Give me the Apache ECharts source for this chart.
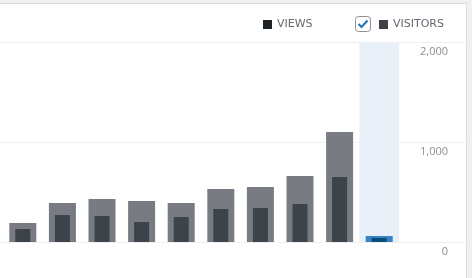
<!DOCTYPE html>
<html>
<head>
<meta charset="utf-8">
<script src="https://cdn.jsdelivr.net/npm/echarts@6/dist/echarts.min.js"></script>
<style>
  html, body { margin: 0; padding: 0; background: #f0f0f1; }
  #card { position: absolute; left: -1px; top: 3px; width: 468px; height: 280px; background: #fff; border: 1px solid #dcdcde; box-sizing: border-box; }
  #chart { position: absolute; left: 0; top: 0; width: 472px; height: 278px; }
</style>
</head>
<body>
<div id="card"></div>
<div id="chart"></div>
<script>
const categories = ['P1', 'P2', 'P3', 'P4', 'P5', 'P6', 'P7', 'P8', 'P9', 'P10'];
const views = [190, 390, 430, 410, 390, 530, 550, 660, 1100, 60];
const visitors = [130, 270, 260, 200, 250, 330, 340, 380, 650, 40];
const yTicks = [0, 1000, 2000];
const highlightIndex = 9;

const yMax = yTicks[yTicks.length - 1];
const band = categories.map((c, i) => i === highlightIndex ? yMax : null);
const viewsData = views.map((v, i) => i === highlightIndex ? { value: v, itemStyle: { color: '#3582c4' } } : v);
const visitorsData = visitors.map((v, i) => i === highlightIndex ? { value: v, itemStyle: { color: '#0a4b78' } } : v);

const chart = echarts.init(document.getElementById('chart'), null, { renderer: 'canvas' });
const hiddenCat = (grid) => ({ type: 'category', gridIndex: grid, data: categories, show: false, boundaryGap: true });
const legendText = { color: '#646970', fontSize: 11, fontFamily: 'DejaVu Sans' };
chart.setOption({
  animation: false,
  backgroundColor: 'transparent',
  grid: [
    { left: 3, top: 42, width: 396, height: 200 },
    { left: 0, top: 42, width: 468, height: 200 }
  ],
  xAxis: [hiddenCat(0), hiddenCat(0), hiddenCat(0), { type: 'category', gridIndex: 1, data: categories, show: false }],
  yAxis: [
    { type: 'value', gridIndex: 0, min: 0, max: yMax, interval: 1000, show: false },
    {
      type: 'value', gridIndex: 1, min: 0, max: yMax, interval: 1000, position: 'right',
      axisLine: { show: false }, axisTick: { show: false },
      splitLine: { show: true, lineStyle: { color: '#f0f0f1', width: 1 } },
      axisLabel: {
        inside: true, margin: 20, color: '#8c8f94', fontSize: 11, fontFamily: 'Open Sans',
        verticalAlign: 'top', padding: [4, 0, 0, 0],
        formatter: v => v.toLocaleString('en-US')
      }
    }
  ],
  legend: [
    {
      data: [{ name: 'VIEWS', itemStyle: { color: '#1d2327' } }],
      left: 263, top: 19, padding: 0, icon: 'rect', itemWidth: 9, itemHeight: 9,
      selectedMode: false, textStyle: legendText
    },
    {
      data: [{ name: 'VISITORS', itemStyle: { color: '#3c434a' } }],
      left: 379, top: 19, padding: 0, icon: 'rect', itemWidth: 9, itemHeight: 9,
      selectedMode: false, textStyle: legendText
    }
  ],
  graphic: [
    {
      type: 'group', left: 355, top: 16,
      children: [
        { type: 'rect', shape: { x: 0.5, y: 0.5, width: 15, height: 15, r: 3 }, style: { fill: '#fff', stroke: '#8c8f94', lineWidth: 1 } },
        { type: 'polyline', shape: { points: [[3.5, 8], [6.5, 11], [12.5, 4.5]] }, style: { stroke: '#2271b1', lineWidth: 2, fill: null } }
      ]
    }
  ],
  series: [
    { type: 'bar', name: 'band', xAxisIndex: 0, yAxisIndex: 0, data: band, barWidth: '100%', itemStyle: { color: '#e9f0f8' }, silent: true, z: 1 },
    { type: 'bar', name: 'VIEWS', xAxisIndex: 1, yAxisIndex: 0, data: viewsData, barWidth: 27, itemStyle: { color: '#787c82' }, z: 2 },
    { type: 'bar', name: 'VISITORS', xAxisIndex: 2, yAxisIndex: 0, data: visitorsData, barWidth: 15, itemStyle: { color: '#3c434a' }, z: 3 }
  ]
});
</script>
</body>
</html>
